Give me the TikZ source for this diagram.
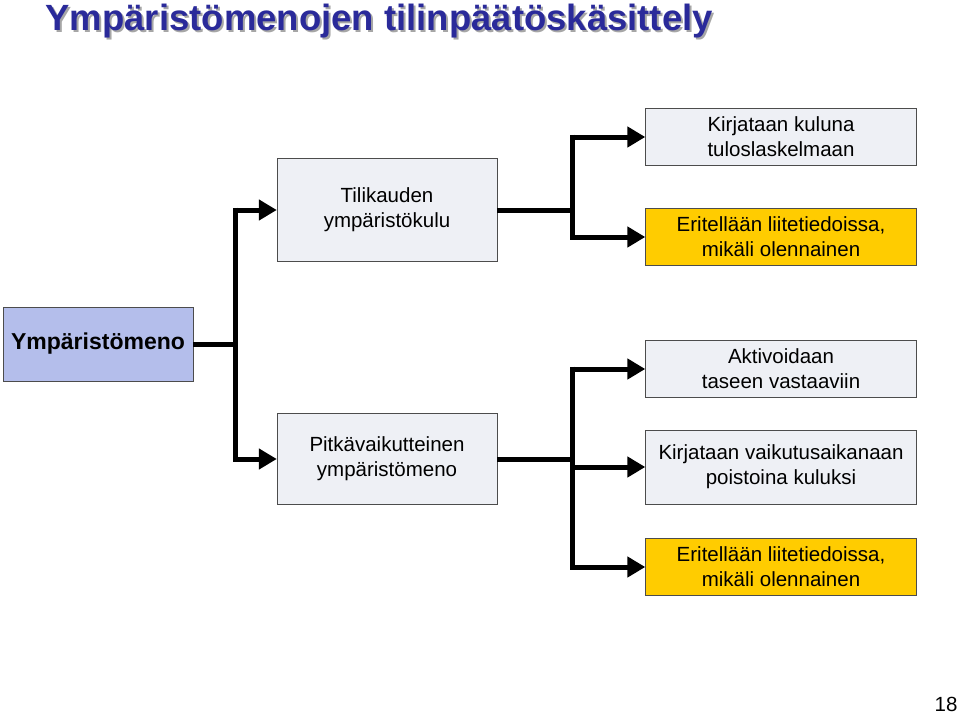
\documentclass[tikz,border=0pt]{standalone}
\usepackage{fontspec}
\setmainfont{Liberation Sans}
\usetikzlibrary{arrows.meta,positioning}
\definecolor{boxgray}{HTML}{EEF0F5}
\definecolor{boxblue}{HTML}{B4BEEB}
\definecolor{boxgold}{HTML}{FFCC00}
\definecolor{titleblue}{HTML}{2A2A9A}
\tikzset{
  box/.style={draw=black!70, fill=boxgray, align=center, inner sep=0pt,
    font=\fontsize{20.5}{25}\selectfont},
  link/.style={line width=5pt, -{Triangle[length=18pt,width=20pt]}},
  trunk/.style={line width=5pt}
}
\begin{document}
\begin{tikzpicture}[x=1pt,y=-1pt]
\useasboundingbox (0,0) rectangle (960,715);
% title
\node[anchor=west, text=black!35, font=\fontsize{36.5}{40}\bfseries\selectfont] at (44,23) {Ympäristömenojen tilinpäätöskäsittely};
\node[anchor=west, text=titleblue, font=\fontsize{36.5}{40}\bfseries\selectfont] (title) at (42,21) {Ympäristömenojen tilinpäätöskäsittely};
% boxes
\node[box, fill=boxblue, minimum width=190pt, minimum height=74pt, font=\fontsize{23}{27}\bfseries\selectfont] (meno) at (98,344) {Ympäristömeno};
\node[box, minimum width=220pt, minimum height=103pt] (kausi) at (387,210) {Tilikauden\\ympäristökulu};
\node[box, minimum width=220pt, minimum height=91pt] (pitka) at (387,459) {Pitkävaikutteinen\\ympäristömeno};
\node[box, minimum width=271pt, minimum height=57pt] (kulu) at (781,137) {Kirjataan kuluna\\tuloslaskelmaan};
\node[box, fill=boxgold, minimum width=271pt, minimum height=57pt] (erit1) at (781,237) {Eritellään liitetiedoissa,\\mikäli olennainen};
\node[box, minimum width=271pt, minimum height=57pt] (aktiv) at (781,369) {Aktivoidaan\\taseen vastaaviin};
\node[box, minimum width=271pt, minimum height=74pt] (poisto) at (781,467) {Kirjataan vaikutusaikanaan\\poistoina kuluksi};
\node[box, fill=boxgold, minimum width=271pt, minimum height=57pt] (erit2) at (781,567) {Eritellään liitetiedoissa,\\mikäli olennainen};
\node[font=\fontsize{20.5}{24}\selectfont] (page) at (946,704) {18};
% connectors
\coordinate (j1) at (235,344);
\coordinate (j2) at (572,210);
\coordinate (j3) at (572,459);
\draw[trunk] (meno.east) -- (j1);
\draw[trunk] (235,207.5) -- (235,461.5);
\draw[link] (235,210) -- (kausi.west);
\draw[link] (235,459) -- (pitka.west);
\draw[trunk] (kausi.east) -- (j2);
\draw[trunk] (572,134.5) -- (572,239.5);
\draw[link] (572,137) -- (kulu.west);
\draw[link] (572,237) -- (erit1.west);
\draw[trunk] (pitka.east) -- (j3);
\draw[trunk] (572,366.5) -- (572,569.5);
\draw[link] (572,369) -- (aktiv.west);
\draw[link] (j3) -- (572,467) -- (poisto.west);
\draw[link] (572,567) -- (erit2.west);
\end{tikzpicture}
\end{document}
